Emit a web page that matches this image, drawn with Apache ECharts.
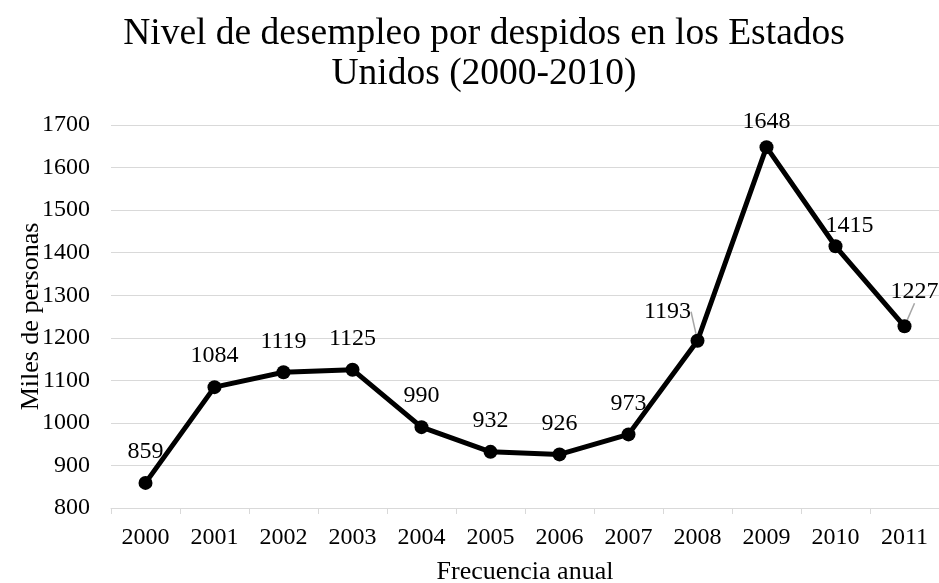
<!DOCTYPE html>
<html>
<head>
<meta charset="utf-8">
<script src="https://cdn.jsdelivr.net/npm/echarts@6/dist/echarts.min.js"></script>
<style>
  html, body { margin: 0; padding: 0; background: #fff; }
  #chart { width: 939px; height: 583px; }
</style>
</head>
<body>
<div id="chart"></div>
<script>
// Annual layoff-driven unemployment, thousands of people
const years = ['2000', '2001', '2002', '2003', '2004', '2005', '2006', '2007', '2008', '2009', '2010', '2011'];
const values = [859, 1084, 1119, 1125, 990, 932, 926, 973, 1193, 1648, 1415, 1227];
const yTicks = { min: 800, max: 1700, interval: 100 };

// Label nudges (px) for points whose labels sit away from the default spot
const labelShift = {
  8: { dx: -30, dy: 2, line: true },
  9: { dx: 0, dy: 6 },
  10: { dx: 14, dy: 10 },
  11: { dx: 10, dy: -4, line: true }
};

const serif = '"Liberation Serif", "Times New Roman", serif';

const seriesData = values.map((v, i) => {
  const s = labelShift[i];
  const item = { value: v };
  if (s && s.line) {
    item.labelLine = { show: true, lineStyle: { color: '#a6a6a6', width: 1.5 } };
  }
  return item;
});

const chart = echarts.init(document.getElementById('chart'), null, { renderer: 'canvas' });
chart.setOption({
  animation: false,
  title: {
    text: 'Nivel de desempleo por despidos en los Estados\nUnidos (2000-2010)',
    left: 479,
    top: 9,
    textAlign: 'center',
    textStyle: { fontFamily: serif, fontSize: 37.5, fontWeight: 'normal', color: '#000', lineHeight: 40 }
  },
  grid: { left: 111, right: 0, top: 125, bottom: 75, containLabel: false, outerBoundsMode: 'none' },
  xAxis: {
    type: 'category',
    data: years,
    boundaryGap: true,
    name: 'Frecuencia anual',
    nameLocation: 'middle',
    nameGap: 51,
    nameMoveOverlap: false,
    nameTextStyle: { fontFamily: serif, fontSize: 26, color: '#000' },
    axisLine: { lineStyle: { color: '#d9d9d9', width: 1 } },
    axisTick: { show: true, alignWithLabel: false, length: 6, lineStyle: { color: '#d9d9d9' } },
    axisLabel: { fontFamily: serif, fontSize: 24, color: '#000', margin: 18 },
    splitLine: { show: false }
  },
  yAxis: {
    type: 'value',
    min: yTicks.min,
    max: yTicks.max,
    interval: yTicks.interval,
    name: 'Miles de personas',
    nameLocation: 'middle',
    nameGap: 67,
    nameMoveOverlap: false,
    nameTextStyle: { fontFamily: serif, fontSize: 26, color: '#000' },
    axisLine: { show: false },
    axisTick: { show: false },
    axisLabel: { fontFamily: serif, fontSize: 24, color: '#000', margin: 21, formatter: (v) => String(v) },
    splitLine: { lineStyle: { color: '#d9d9d9', width: 1 } }
  },
  series: [{
    type: 'line',
    data: seriesData,
    symbol: 'circle',
    symbolSize: 14,
    itemStyle: { color: '#000' },
    lineStyle: { color: '#000', width: 5 },
    label: {
      show: true,
      position: 'top',
      distance: 12,
      fontFamily: serif,
      fontSize: 24,
      color: '#000'
    },
    labelLine: { show: false },
    labelLayout: function (params) {
      const s = labelShift[params.dataIndex];
      return s ? { dx: s.dx, dy: s.dy } : {};
    }
  }]
});
</script>
</body>
</html>
